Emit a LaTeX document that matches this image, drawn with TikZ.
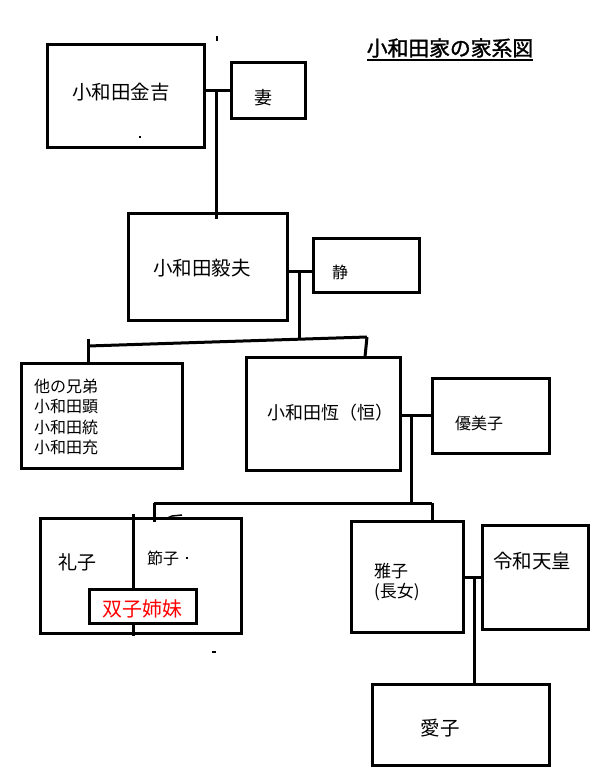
\documentclass[tikz,border=0pt]{standalone}
\usepackage{fontspec}
\setmainfont{Noto Sans CJK JP}
\newfontfamily\titlefont[FakeBold=1.5]{Noto Sans CJK JP}
\usetikzlibrary{fit}
\newcommand{\fsz}[1]{\fontsize{#1}{20.5}\selectfont}
\tikzset{
  box/.style={draw, line width=3pt, inner sep=0pt},
  lbl/.style={inner sep=0pt, font=\fsz{16}},
  link/.style={line width=3pt},
  speck/.style={fill=black},
}

\begin{document}
\begin{tikzpicture}[x=1pt,y=-1pt]
	\useasboundingbox (0,0) rectangle (604,782);
	% title
	\node[lbl, font=\titlefont\fsz{20.8}] (title) at (450,48) {小和田家の家系図};
	\draw[line width=2pt] ([yshift=-2.5pt]title.south west) -- ([yshift=-2.5pt]title.south east);
	% boxes
	\node[box, fit={(47,44) (204,147)}] (kinkichi) {};
	\node[box, fit={(231,62) (305,118)}] (tsuma) {};
	\node[box, fit={(128,213) (287,320)}] (takeo) {};
	\node[box, fit={(313,238) (419,292)}] (shizu) {};
	\node[box, fit={(21,363) (182,468)}] (kyodai) {};
	\node[box, fit={(246,357) (400,470)}] (hisashi) {};
	\node[box, fit={(432,378) (549,453)}] (yumiko) {};
	\node[box, fit={(40,518) (241,633)}] (sisters) {};
	\node[box, fit={(89,589) (196,623)}] (twins) {};
	\node[box, fit={(351,521) (463,632)}] (masako) {};
	\node[box, fit={(482,525) (588,629)}] (reiwa) {};
	\node[box, fit={(372,684) (549,765)}] (aiko) {};
	% labels
	\node[lbl, font=\fsz{19.5}] (t-kinkichi) at (121,92) {小和田金吉};
	\node[lbl, font=\fsz{18}] (t-tsuma) at (263,98) {妻};
	\node[lbl, font=\fsz{19.5}] (t-takeo) at (202,268) {小和田毅夫};
	\node[lbl] (t-shizu) at (340,272) {静};
	\node[lbl, anchor=west, align=left] (t-kyodai) at (34,417) {他の兄弟\\小和田顕\\小和田統\\小和田充};
	\node[lbl, font=\fsz{18}] (t-hisashi) at (330,413) {小和田恆（恒）};
	\node[lbl] (t-yumiko) at (479,423) {優美子};
	\node[lbl, font=\fsz{19}] (t-reiko) at (77,562) {礼子};
	\node[lbl] (t-setsuko) at (163,558) {節子};
	\node[lbl, text=red, font=\fsz{20}] (t-twins) at (142,609) {双子姉妹};
	\node[lbl, font=\fsz{17}, anchor=west, align=left] (t-masako) at (374,582) {雅子\\(長女)};
	\node[lbl, font=\fsz{19.5}] (t-reiwa) at (532,561) {令和天皇};
	\node[lbl, font=\fsz{19.5}] (t-aiko) at (440,728) {愛子};
	% couples and descent
	\coordinate (c1) at (216,90);
	\draw[link] (kinkichi.east |- c1) -- (tsuma.west |- c1);
	\draw[link] (c1) -- ([yshift=-7pt]c1 |- takeo.north);
	\coordinate (c2) at (299,271);
	\draw[link] (takeo.east |- c2) -- (shizu.west |- c2);
	\coordinate (s1) at (88,346);
	\coordinate (s2) at (367,337);
	\draw[link] (c2) -- (299,339);
	\draw[link] (s1) -- (s2);
	\draw[link] ([yshift=7pt]s1) -- (s1 |- kyodai.north);
	\draw[link] (s2) -- (365,357);
	\coordinate (c3) at (411,415);
	\draw[link] (hisashi.east |- c3) -- (yumiko.west |- c3);
	\coordinate (k1) at (154,503);
	\coordinate (k2) at (432,503);
	\draw[link] (c3) -- (c3 |- k1);
	\draw[link] (k1) -- (k2);
	\draw[link] (k1) -- ([yshift=-5pt]k1 |- sisters.north);
	\draw[link] (k2) -- ([yshift=-3pt]k2 |- masako.north);
	\coordinate (d1) at (133,514);
	\coordinate (d2) at (133,636);
	\draw[link] (d1) -- (d1 |- twins.north);
	\draw[link] (d2 |- twins.south) -- (d2);
	\coordinate (c4) at (474,577);
	\draw[link] (masako.east |- c4) -- (reiwa.west |- c4);
	\draw[link] (c4) -- (c4 |- aiko.north);
	% stray specks
	\fill[speck] (216,36) rectangle (218,41);
	\fill[speck] (139,136) rectangle (141,138);
	\fill[speck] (186,557) rectangle (188,559);
	\fill[speck] (212,651) rectangle (216,653);
	\draw[line width=1.5pt] (165,519) -- (172,516) -- (182,515);
\end{tikzpicture}
\end{document}
